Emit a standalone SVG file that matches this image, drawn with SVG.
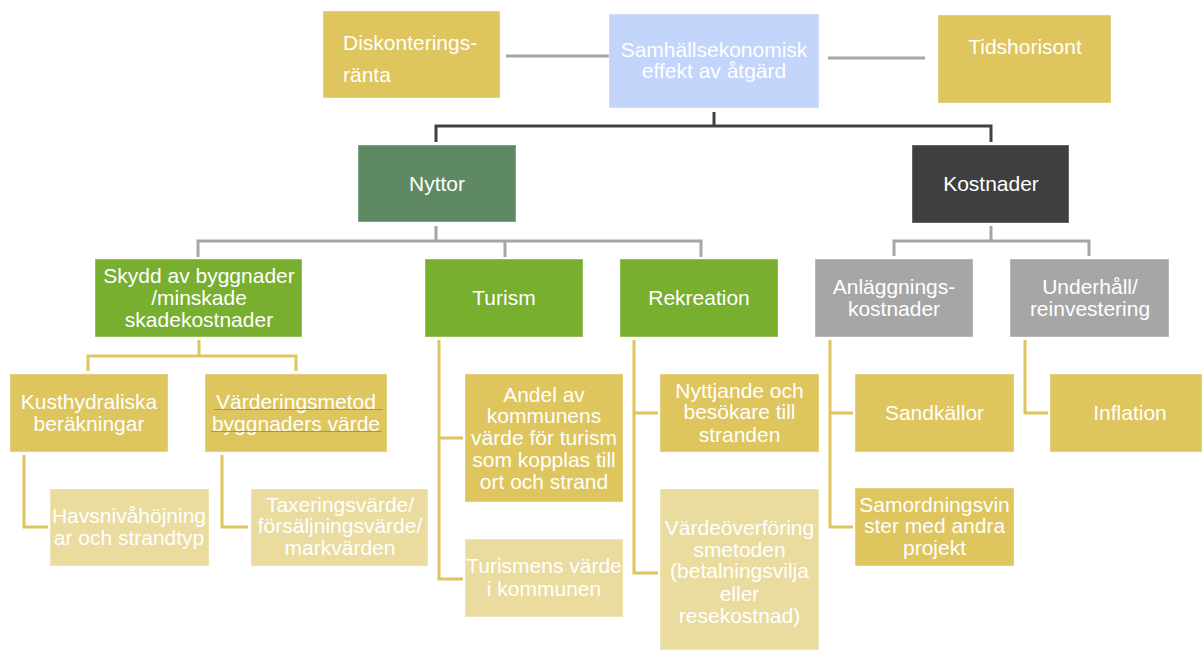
<svg xmlns="http://www.w3.org/2000/svg" width="1202" height="651" viewBox="0 0 1202 651">
<style>
text{font-family:"Liberation Sans",Arial,sans-serif;font-size:21px;fill:#fff;text-anchor:middle}
.l{text-anchor:start}
.gold{fill:#DEC55D}
.pale{fill:#EADC9E}
.green{fill:#79AF2F}
.gray{fill:#A6A6A7}
.c{fill:none;stroke-width:3}
.cg{stroke:#A6A6A6}
.cy{stroke:#DEC55D}
.ck{stroke:#404040}
rect{stroke:#ffffff;stroke-opacity:0.4;stroke-width:1}
</style>
<rect width="1202" height="651" fill="#fff" stroke="none"/>
<g id="connectors">
<path class="c cg" d="M506 56H609"/>
<path class="c cg" d="M828 58H925"/>
<path class="c ck" d="M714 112V126M436 142V126H991V142"/>
<path class="c cg" d="M436 226V241M198 257V241H701V257M505 241V257"/>
<path class="c cg" d="M991 226V241M894 256V241H1089V256"/>
<path class="c cy" d="M199 340V356M88 371V356H296V371"/>
<path class="c cy" d="M24 455V527H48"/>
<path class="c cy" d="M222 455V527H248"/>
<path class="c cy" d="M439 340V579H463M439 438H463"/>
<path class="c cy" d="M634 340V573H658M634 413H658"/>
<path class="c cy" d="M830 340V527H853M830 413H853"/>
<path class="c cy" d="M1025 340V413H1048"/>
</g>
<g id="diskontering"><rect class="gold" x="323" y="11" width="177" height="87"/><text class="l" x="343" y="50">Diskonterings-</text><text class="l" x="343" y="82">ränta</text></g>
<g id="samhall"><rect x="609" y="14" width="210" height="94" fill="#C3D5FB"/><text x="714" y="57">Samhällsekonomisk</text><text x="714" y="78">effekt av åtgärd</text></g>
<g id="tidshorisont"><rect class="gold" x="938" y="15" width="173" height="88"/><text x="1025" y="54">Tidshorisont</text></g>
<g id="nyttor"><rect x="358" y="145" width="158" height="77" fill="#5E8962"/><text x="437" y="191">Nyttor</text></g>
<g id="kostnader"><rect x="912" y="145" width="157" height="78" fill="#3F3F41"/><text x="991" y="191">Kostnader</text></g>
<g id="skydd"><rect class="green" x="95" y="259" width="207" height="78"/><text x="199" y="283">Skydd av byggnader</text><text x="199" y="305">/minskade</text><text x="199" y="327">skadekostnader</text></g>
<g id="turism"><rect class="green" x="425" y="259" width="158" height="78"/><text x="504" y="305">Turism</text></g>
<g id="rekreation"><rect class="green" x="620" y="259" width="158" height="78"/><text x="699" y="305">Rekreation</text></g>
<g id="anlaggning"><rect class="gray" x="815" y="259" width="158" height="78"/><text x="894" y="294">Anläggnings-</text><text x="894" y="316">kostnader</text></g>
<g id="underhall"><rect class="gray" x="1010" y="259" width="159" height="78"/><text x="1090" y="294">Underhåll/</text><text x="1090" y="316">reinvestering</text></g>
<g id="kusthydraliska"><rect class="gold" x="10" y="374" width="158" height="78"/><text x="89" y="409">Kusthydraliska</text><text x="89" y="431">beräkningar</text></g>
<g id="varderingsmetod"><rect class="gold" x="205" y="374" width="182" height="78"/><text x="296" y="409">Värderingsmetod </text><text x="296" y="431">byggnaders värde</text><path d="M214 409.5H383M211 431.5H382" stroke="#E0794F" stroke-width="1" fill="none"/></g>
<g id="havsniva"><rect class="pale" x="50" y="489" width="159" height="77"/><text x="129" y="523">Havsnivåhöjning</text><text x="129" y="545">ar och strandtyp</text></g>
<g id="taxering"><rect class="pale" x="251" y="489" width="177" height="77"/><text x="340" y="512">Taxeringsvärde/</text><text x="340" y="533">försäljningsvärde/</text><text x="340" y="555">markvärden</text></g>
<g id="andel"><rect class="gold" x="465" y="374" width="158" height="128"/><text x="544" y="402">Andel av</text><text x="544" y="423">kommunens</text><text x="544" y="445">värde för turism</text><text x="544" y="467">som kopplas till</text><text x="544" y="489">ort och strand</text></g>
<g id="turismens"><rect class="pale" x="465" y="539" width="158" height="78"/><text x="544" y="573">Turismens värde</text><text x="544" y="596">i kommunen</text></g>
<g id="nyttjande"><rect class="gold" x="660" y="374" width="159" height="78"/><text x="739.5" y="398">Nyttjande och</text><text x="739.5" y="419">besökare till</text><text x="739.5" y="442">stranden</text></g>
<g id="vardeoverforing"><rect class="pale" x="660" y="489" width="159" height="161"/><text x="739.5" y="535">Värdeöverföring</text><text x="739.5" y="557">smetoden</text><text x="739.5" y="578">(betalningsvilja</text><text x="739.5" y="601">eller</text><text x="739.5" y="623">resekostnad)</text></g>
<g id="sandkallor"><rect class="gold" x="855" y="374" width="159" height="78"/><text x="934.5" y="420">Sandkällor</text></g>
<g id="samordning"><rect class="gold" x="855" y="488" width="159" height="78"/><text x="934.5" y="512">Samordningsvin</text><text x="934.5" y="533">ster med andra</text><text x="934.5" y="555">projekt</text></g>
<g id="inflation"><rect class="gold" x="1050" y="374" width="152" height="78"/><text x="1130" y="420">Inflation</text></g>
</svg>
